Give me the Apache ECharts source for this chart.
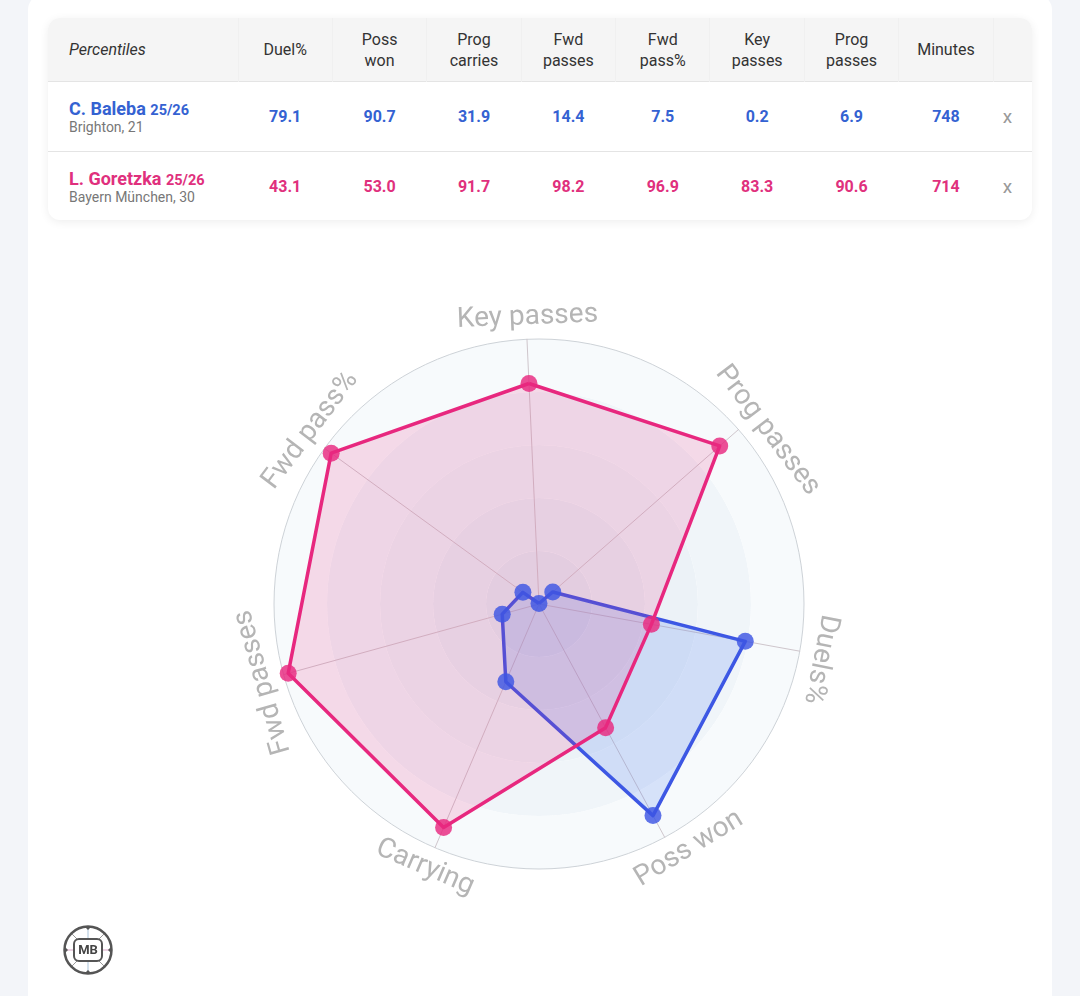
<!DOCTYPE html>
<html>
<head>
<meta charset="utf-8">
<script src="https://cdn.jsdelivr.net/npm/echarts@6/dist/echarts.min.js"></script>
<style>
html, body { margin: 0; padding: 0; width: 1080px; height: 996px; overflow: hidden; background: #f3f5f9; font-family: Roboto, 'Noto Sans', sans-serif; }
.card { position: absolute; left: 28px; top: -6px; width: 1024px; height: 1040px; background: #fff; border-radius: 16px; }
.tbl { position: absolute; left: 48px; top: 18px; width: 984px; height: 202px; border-radius: 12px; background: #fff; overflow: hidden; box-shadow: 0 2px 10px rgba(0,0,0,0.07); }
table { border-collapse: collapse; width: 984px; table-layout: fixed; }
th { background: #f5f5f5; height: 63px; font-weight: 400; font-size: 16px; color: #333; line-height: 21px; padding: 0; text-align: center; border-right: 1px solid #f0f0f0; }
th.first { text-align: left; padding-left: 21px; font-style: italic; }
td { height: 69px; border-top: 1px solid #e4e4e4; text-align: center; font-size: 16px; font-weight: 700; padding: 0; }
td.first { text-align: left; padding-left: 21px; }
td.x { color: #999; font-weight: 400; font-size: 19px; padding-right: 10px; }
.nm { font-size: 18px; font-weight: 700; line-height: 19px; }
.nm small { font-size: 14.5px; }
.sub { font-size: 14px; font-weight: 400; color: #777; line-height: 15px; }
#chart { position: absolute; left: 0; top: 240px; width: 1080px; height: 756px; }
</style>
</head>
<body>
<div class="card"></div>
<div class="tbl"><table id="tb"></table></div>
<div id="chart"></div>
<script>
// 表格列
const tableCols = ['Duel%', 'Poss won', 'Prog carries', 'Fwd passes', 'Fwd pass%', 'Key passes', 'Prog passes']
const players = ['C. Baleba', 'L. Goretzka']
const seasons = ['25/26', '25/26']
const clubs = ['Brighton, 21', 'Bayern München, 30']
const balebaVals = [79.1, 90.7, 31.9, 14.4, 7.5, 0.2, 6.9]
const goretzkaVals = [43.1, 53.0, 91.7, 98.2, 96.9, 83.3, 90.6]
const minutes = [748, 714]
const colors = ['#3462d2', '#e0307d']
const lineColors = ['#3d55e3', '#e8287f']
const areaColors = ['rgba(64,112,240,0.25)', 'rgba(232,40,127,0.22)']

// 雷达轴 (逆时针), 对应表格列索引
const radarNames = ['Key passes', 'Fwd pass%', 'Fwd passes', 'Carrying', 'Poss won', 'Duels%', 'Prog passes']
const radarCols = [5, 4, 3, 2, 1, 0, 6]
// 标签所在角度 (度)
const labelAngles = [92.3, 142.8, 195.8, 246.6, 301.5, 348.9, 37.2]

// build table
const tb = document.getElementById('tb')
let html = '<colgroup><col style="width:190px">'
tableCols.forEach(() => { html += '<col style="width:94.4px">' })
html += '<col style="width:94.4px"><col style="width:38.8px"></colgroup>'
html += '<tr><th class="first">Percentiles</th>'
tableCols.forEach(c => {
  const parts = c.split(' ')
  html += `<th>${parts.join('<br>')}</th>`
})
html += '<th>Minutes</th><th style="border-right:none"></th></tr>'
const allVals = [balebaVals, goretzkaVals]
players.forEach((p, i) => {
  html += `<tr style="color:${colors[i]}"><td class="first"><div class="nm">${p} <small>${seasons[i]}</small></div><div class="sub">${clubs[i]}</div></td>`
  allVals[i].forEach(v => { html += `<td>${v.toFixed(1)}</td>` })
  html += `<td>${minutes[i]}</td><td class="x">x</td></tr>`
})
tb.innerHTML = html

const cx = 539
const cy = 364
const R = 265
const startAngle = 92.6

const chart = echarts.init(document.getElementById('chart'))

// 旋转标签
const labels = radarNames.map((n, i) => {
  const a = labelAngles[i]
  const na = ((a + 180) % 360 + 360) % 360 - 180
  const rot = (na > -150 && na < -30) ? na + 90 : na - 90
  const rad = a * Math.PI / 180
  return {
    type: 'text',
    x: cx + 287 * Math.cos(rad),
    y: cy - 287 * Math.sin(rad),
    rotation: rot * Math.PI / 180,
    style: { text: n, fill: '#b5b5b5', fontSize: 28, fontFamily: 'Roboto', align: 'center', verticalAlign: 'middle' }
  }
})

const logo = {
  type: 'group',
  x: 88,
  y: 710,
  children: [
    { type: 'line', shape: { x1: -22, y1: 0, x2: 22, y2: 0 }, style: { stroke: '#d9a3c6', lineWidth: 1 } },
    { type: 'line', shape: { x1: 0, y1: -22, x2: 0, y2: 22 }, style: { stroke: '#a9c3d9', lineWidth: 1 } },
    { type: 'line', shape: { x1: -16, y1: -16, x2: -9, y2: -9 }, style: { stroke: '#999', lineWidth: 1 } },
    { type: 'line', shape: { x1: 16, y1: -16, x2: 9, y2: -9 }, style: { stroke: '#999', lineWidth: 1 } },
    { type: 'line', shape: { x1: -16, y1: 16, x2: -9, y2: 9 }, style: { stroke: '#999', lineWidth: 1 } },
    { type: 'line', shape: { x1: 16, y1: 16, x2: 9, y2: 9 }, style: { stroke: '#999', lineWidth: 1 } },
    { type: 'circle', shape: { cx: 0, cy: 0, r: 23.5 }, style: { fill: 'none', stroke: '#555', lineWidth: 2.5 } },
    { type: 'rect', shape: { x: -14, y: -11, width: 28, height: 22, r: 5 }, style: { fill: '#fff', stroke: '#555', lineWidth: 2 } },
    { type: 'text', style: { text: 'MB', x: 0, y: 1, align: 'center', verticalAlign: 'middle', fontSize: 13, fontWeight: 'bold', fill: '#444', fontFamily: 'Roboto' } },
    { type: 'polygon', shape: { points: [[-24, -4], [-20, 0], [-24, 4]] }, style: { fill: '#555' } },
    { type: 'polygon', shape: { points: [[24, -4], [20, 0], [24, 4]] }, style: { fill: '#555' } },
    { type: 'polygon', shape: { points: [[-4, -24], [0, -20], [4, -24]] }, style: { fill: '#555' } },
    { type: 'polygon', shape: { points: [[-4, 24], [0, 20], [4, 24]] }, style: { fill: '#555' } }
  ]
}

const clear = 'rgba(0,0,0,0)'
chart.setOption({
  animation: false,
  radar: {
    center: [cx, cy],
    radius: R,
    startAngle: startAngle,
    shape: 'circle',
    splitNumber: 5,
    indicator: radarNames.map(n => ({ name: n, min: 0, max: 100 })),
    axisName: { show: false },
    axisLine: { lineStyle: { color: '#cfc6cc', width: 1 } },
    splitLine: { lineStyle: { color: [clear, clear, clear, clear, clear, '#cdd2d7'], width: 1 } },
    splitArea: { areaStyle: { color: ['#e3ebf2', '#e8eff5', '#ecf2f7', '#f0f5f9', '#f7fafc'] } }
  },
  series: [{
    type: 'radar',
    symbol: 'circle',
    symbolSize: 17,
    data: allVals.map((vals, i) => ({
      name: players[i],
      value: radarCols.map(c => vals[c]),
      lineStyle: { color: lineColors[i], width: 3.5 },
      itemStyle: { color: lineColors[i], opacity: 0.82 },
      areaStyle: { color: areaColors[i] }
    }))
  }],
  graphic: labels.concat([logo])
})
</script>
</body>
</html>
